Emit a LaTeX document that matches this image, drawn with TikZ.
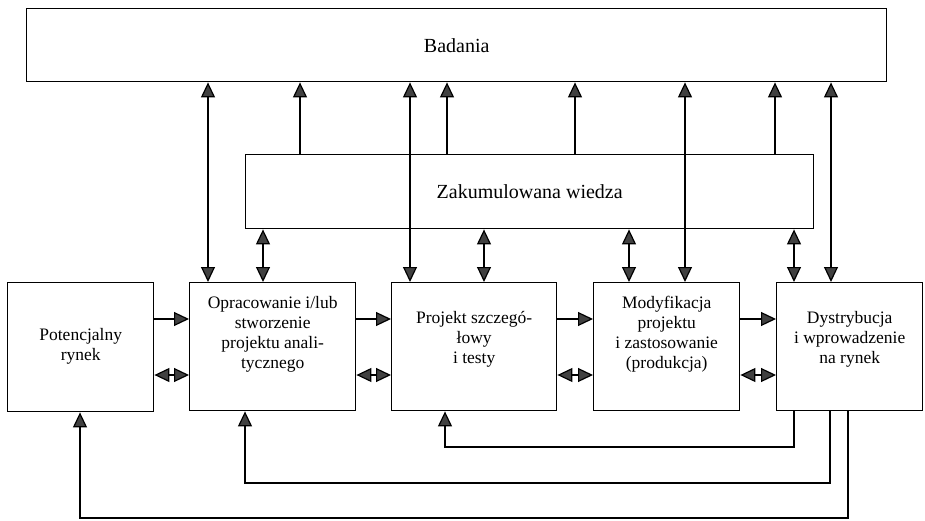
\documentclass[tikz,border=0pt]{standalone}
\usepackage{fontspec}
\setmainfont{Liberation Serif}
\usetikzlibrary{arrows.meta}

\begin{document}
\begin{tikzpicture}[x=1pt,y=-1pt,
        >={Triangle[width=14pt,length=15pt,fill=black!75]},
        box/.style={draw,line width=1.4pt,inner sep=0pt,align=center,anchor=north west,font=\fontsize{17.5}{20}\selectfont},
        wide/.style={draw,line width=1.4pt,inner sep=0pt,anchor=north west,font=\fontsize{20}{24}\selectfont},
        link/.style={line width=1.2pt}]
        \useasboundingbox (0,0) rectangle (925,521);
        \node[wide,minimum width=860pt,minimum height=73pt] (bad) at (26,8) {Badania};
        \node[wide,minimum width=568pt,minimum height=74pt] (wiedza) at (245,154) {Zakumulowana wiedza};
        \node[box,minimum width=146pt,text height=78pt,text depth=51pt] (rynek) at (7,282) {Potencjalny\\rynek};
        \node[box,minimum width=166pt,text height=86pt,text depth=42pt] (opr) at (189,282) {Opracowanie i/lub\\stworzenie\\projektu anali-\\tycznego};
        \node[box,minimum width=165pt,text height=81pt,text depth=47pt] (proj) at (391,282) {Projekt szczegó-\\łowy\\i testy};
        \node[box,minimum width=146pt,text height=86pt,text depth=42pt] (mod) at (593,282) {Modyfikacja\\projektu\\i zastosowanie\\(produkcja)};
        \node[box,minimum width=146pt,text height=81pt,text depth=47pt] (dyst) at (776,282) {Dystrybucja\\i wprowadzenie\\na rynek};
        \foreach \x/\n in {208/opr,410/proj,685/mod,831/dyst}
            \draw[link,<->] (\n.north -| \x,0) -- (bad.south -| \x,0);
        \foreach \x/\n in {263/opr,484/proj,629/mod,794/dyst}
            \draw[link,<->] (\n.north -| \x,0) -- (wiedza.south -| \x,0);
        \foreach \x in {300,447,575,775}
            \draw[link,->] (wiedza.north -| \x,0) -- (bad.south -| \x,0);
        \foreach \a/\b in {rynek/opr,opr/proj,proj/mod,mod/dyst}{
            \draw[link,->] (\a.east |- 0,319) -- (\b.west |- 0,319);
            \draw[link,<->] (\a.east |- 0,375) -- (\b.west |- 0,375);
        }
        \draw[link,->] (dyst.south -| 794,0) |- (445,447) -- (proj.south -| 445,0);
        \draw[link,->] (dyst.south -| 830,0) |- (245,483) -- (opr.south -| 245,0);
        \draw[link,->] (dyst.south -| 848,0) |- (80,518) -- (rynek.south -| 80,0);
\end{tikzpicture}
\end{document}
